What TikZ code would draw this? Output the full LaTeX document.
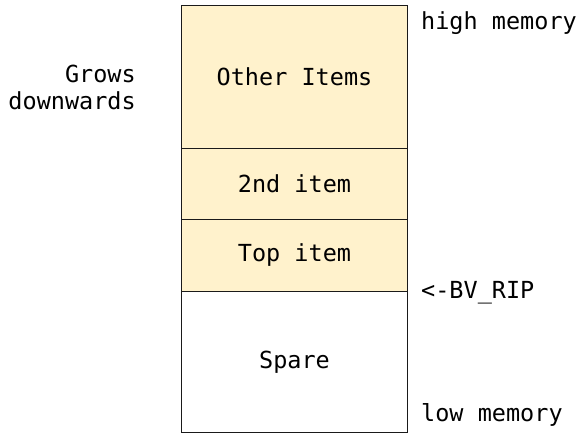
\documentclass[tikz,border=0pt]{standalone}
\usepackage{fontspec}
\setmainfont{DejaVu Sans Mono}
\definecolor{itemfill}{HTML}{FFF2CC}
\definecolor{edge}{HTML}{1A1A1A}
\begin{document}
\begin{tikzpicture}[x=1pt,y=-1pt,
  font=\fontsize{23.5}{27}\selectfont,
  cell/.style={draw=edge,line width=1pt,minimum width=226pt,inner sep=0pt,anchor=north west},
  item/.style={cell,fill=itemfill},
  side/.style={inner sep=0pt,anchor=base west}]
\useasboundingbox (0,0) rectangle (582,435);
\node[item,minimum height=143pt] (other) at (181,5) {Other Items};
\node[item,minimum height=71pt] (second) at (181,148) {2nd item};
\node[item,minimum height=72pt] (top) at (181,219) {Top item};
\node[cell,fill=white,minimum height=141pt] (spare) at (181,291) {Spare};
\node[side] (high) at (421,30) {high memory};
\node[side] (rip) at (421,299) {<-BV\_RIP};
\node[side] (low) at (421,422) {low memory};
\node[inner sep=0pt,anchor=base east,align=right] (grows) at (136,110) {Grows\\downwards};
\end{tikzpicture}
\end{document}
